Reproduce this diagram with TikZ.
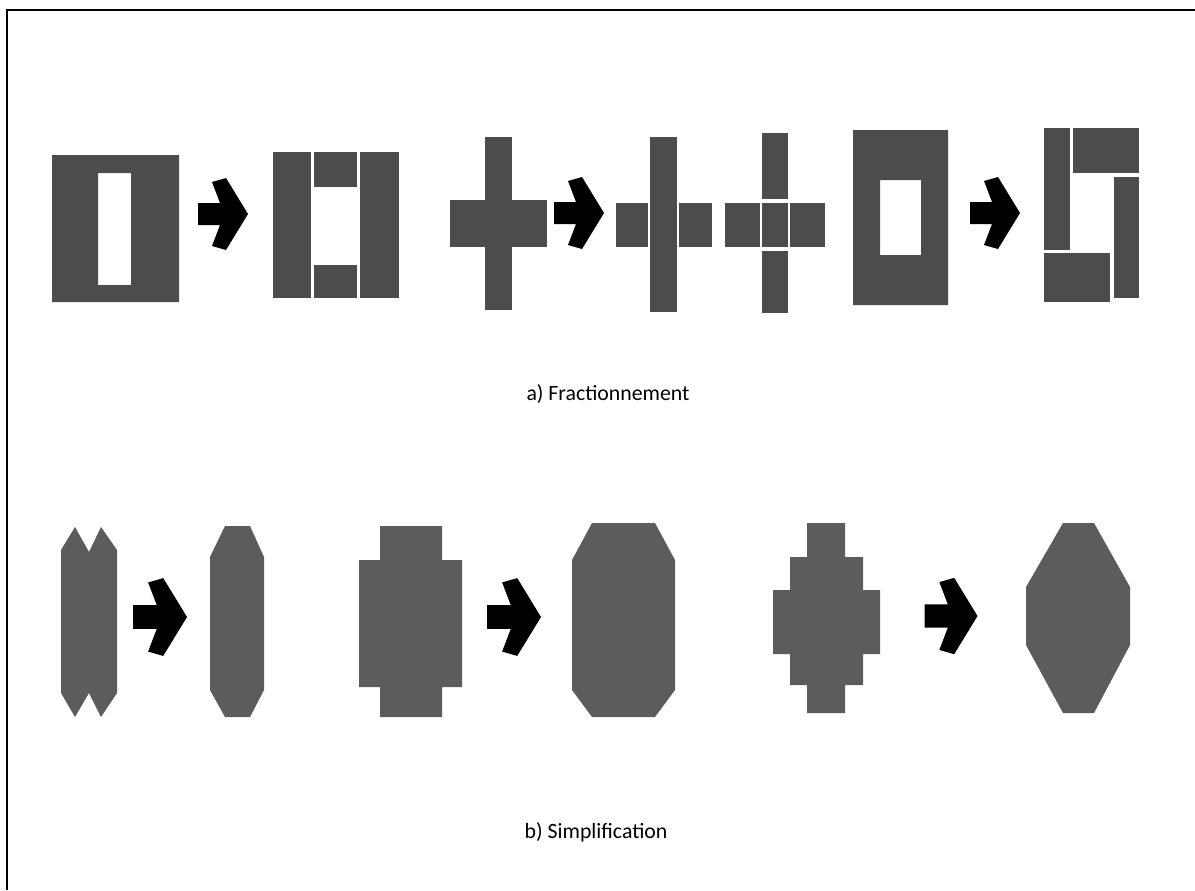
\documentclass[tikz,border=0pt]{standalone}
\usepackage{fontspec}
\setmainfont{Carlito}
\begin{document}
\begin{tikzpicture}[
    x=0.025cm, y=-0.025cm,
    blk/.style={fill=black!70, draw=none},
    blkb/.style={fill=black!64, draw=none},
    caption/.style={font=\fontsize{15.5}{18}\selectfont, inner sep=0pt, anchor=base},
    fatarrow/.pic={\fill[black] (-25,-11) -- (-3,-11) -- (-11,-32) -- (3,-36) -- (25,0) -- (3,36) -- (-11,32) -- (-3,11) -- (-25,11) -- cycle;}
]
\useasboundingbox (0,0) rectangle (1195,890);

% Frame (top and left only)
\draw[line width=1.5pt] (7,890) -- (7,10) -- (1195,10);

% a) Fractionnement
\fill[blk, even odd rule] (52,155) rectangle (179,302) (98,173) rectangle (131,285);
\pic at (223,214) {fatarrow};
\fill[blk] (273,152) rectangle (311,298);
\fill[blk] (314,152) rectangle (357,187);
\fill[blk] (314,265) rectangle (357,298);
\fill[blk] (360,152) rectangle (399,298);

\fill[blk] (485,137) rectangle (512,310);
\fill[blk] (450,200) rectangle (547,247);
\pic at (579,213) {fatarrow};
\fill[blk] (650,137) rectangle (677,312);
\fill[blk] (616,203) rectangle (648,247);
\fill[blk] (679,203) rectangle (712,247);

\fill[blk] (762,133) rectangle (788,199);
\fill[blk] (725,203) rectangle (760,247);
\fill[blk] (762,203) rectangle (788,247);
\fill[blk] (790,203) rectangle (825,247);
\fill[blk] (762,251) rectangle (788,313);

\fill[blk, even odd rule] (853,130) rectangle (948,305) (880,180) rectangle (921,255);
\pic at (995,213) {fatarrow};
\fill[blk] (1044,128) rectangle (1070,250);
\fill[blk] (1073,128) rectangle (1139,173);
\fill[blk] (1114,177) rectangle (1139,298);
\fill[blk] (1044,253) rectangle (1110,302);

\node[caption] (capA) at (608,400) {a) Fractionnement};

% b) Simplification
\fill[blkb] (61,550) -- (75,527) -- (89,552) -- (101,527) -- (117,550) -- (117,693)
    -- (101,717) -- (89,693) -- (75,717) -- (61,693) -- cycle;
\pic[scale=1.08] at (160,617) {fatarrow};
\fill[blkb] (225,526) -- (250,526) -- (264,557) -- (264,690) -- (250,717) -- (225,717)
    -- (210,690) -- (210,557) -- cycle;

\fill[blkb] (380,526) -- (442,526) -- (442,560) -- (462,560) -- (462,687) -- (442,687)
    -- (442,717) -- (380,717) -- (380,687) -- (359,687) -- (359,560) -- (380,560) -- cycle;
\pic[scale=1.08] at (514,617) {fatarrow};
\fill[blkb] (592,523) -- (655,523) -- (675,560) -- (675,690) -- (655,717) -- (592,717)
    -- (572,690) -- (572,560) -- cycle;

\fill[blkb] (807,523) -- (845,523) -- (845,557) -- (863,557) -- (863,590) -- (880,590)
    -- (880,654) -- (863,654) -- (863,685) -- (845,685) -- (845,713) -- (807,713)
    -- (807,685) -- (790,685) -- (790,654) -- (773,654) -- (773,590) -- (790,590)
    -- (790,557) -- (807,557) -- cycle;
\pic[scale=1.06] at (951,616) {fatarrow};
\fill[blkb] (1063,523) -- (1094,523) -- (1130,587) -- (1130,645) -- (1094,713) -- (1063,713)
    -- (1026,645) -- (1026,587) -- cycle;

\node[caption] (capB) at (596,838) {b) Simplification};
\end{tikzpicture}
\end{document}
